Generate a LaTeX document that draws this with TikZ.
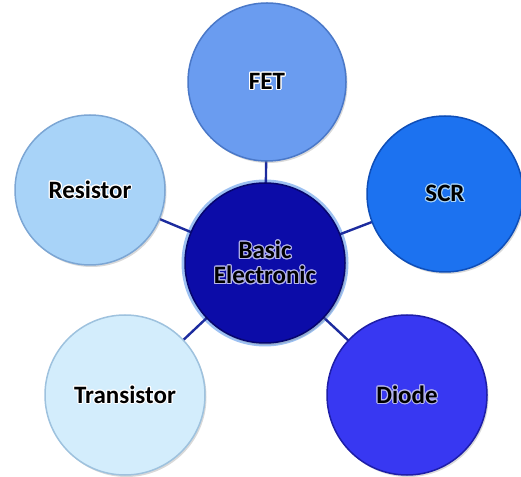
\documentclass[tikz,border=0pt]{standalone}
\usepackage{fontspec}
\setmainfont{Carlito}
\usepackage[copies]{contour}
\usetikzlibrary{shadows,backgrounds}
\contourlength{1.1pt}

\definecolor{linkblue}{HTML}{1C2B9E}
\definecolor{coreFill}{HTML}{0C0CA8}
\definecolor{coreRim}{HTML}{06066E}
\definecolor{coreGlow}{HTML}{9CC0F2}
\definecolor{textGlow}{HTML}{B4B4EC}
\definecolor{fetFill}{HTML}{6A9CF0}
\definecolor{fetRim}{HTML}{4A78C8}
\definecolor{resFill}{HTML}{A8D3F8}
\definecolor{resRim}{HTML}{7CA6D4}
\definecolor{scrFill}{HTML}{1C72F0}
\definecolor{scrRim}{HTML}{0E4EB8}
\definecolor{traFill}{HTML}{D3EDFC}
\definecolor{traRim}{HTML}{9EC2DE}
\definecolor{dioFill}{HTML}{3838F2}
\definecolor{dioRim}{HTML}{1E1EA8}

\begin{document}
\begin{tikzpicture}[x=1pt,y=1pt,font=\bfseries\fontsize{25}{25}\selectfont]
\tikzstyle{topic} = [circle, draw, line width=1.5pt, inner sep=0pt,
    minimum size=156pt, align=center,
    drop shadow={opacity=0.3,shadow xshift=1.5pt,shadow yshift=-2pt}]
\tikzstyle{link} = [draw, line width=2.4pt, color=linkblue]

\useasboundingbox (0,0) rectangle (521,476);

% hub and the five parts around it
\node[topic, fill=coreFill, draw=coreRim, minimum size=160pt] (core) at (265,213)
    {\contour{textGlow}{Basic}\\\contour{textGlow}{Electronic}};
\node[topic, fill=fetFill, draw=fetRim, minimum size=158pt] (fet) at (267,394) {\contour{white}{FET}};
\node[topic, fill=resFill, draw=resRim, minimum size=150pt] (resistor) at (90,286) {\contour{white}{Resistor}};
\node[topic, fill=scrFill, draw=scrRim] (scr) at (445,282) {\contour{resFill}{SCR}};
\node[topic, fill=traFill, draw=traRim, minimum size=160pt] (transistor) at (125,81) {\contour{white}{Transistor}};
\node[topic, fill=dioFill, draw=dioRim, minimum size=160pt] (diode) at (407,81) {\contour{textGlow}{Diode}};

\begin{scope}[on background layer]
\fill[coreGlow] (core.center) circle (83.5);
\draw[link] (core.center) -- (fet.center);
\draw[link] (core.center) -- (resistor.center);
\draw[link] (core.center) -- (scr.center);
\draw[link] (core.center) -- (transistor.center);
\draw[link] (core.center) -- (diode.center);
\end{scope}

\end{tikzpicture}
\end{document}
